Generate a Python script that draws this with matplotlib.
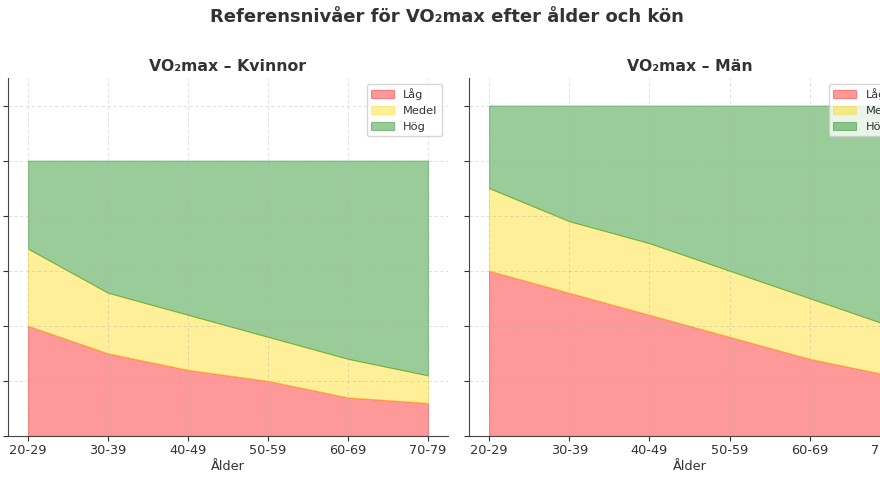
import matplotlib
matplotlib.use('Agg')
import matplotlib.pyplot as plt
from matplotlib.colors import to_rgba
import numpy as np

# age groups
age_groups = ['20-29', '30-39', '40-49', '50-59', '60-69', '70-79']
band_labels = ['Låg', 'Medel', 'Hög']

# women: thickness of each band (ml/kg/min)
kvinnor_lag = [20, 15, 12, 10, 7, 6]
kvinnor_medel = [14, 11, 10, 8, 7, 5]
kvinnor_hog = [16, 24, 28, 32, 36, 39]

# men
man_lag = [30, 26, 22, 18, 14, 11]
man_medel = [15, 13, 13, 12, 11, 9]
man_hog = [15, 21, 25, 30, 35, 40]

colors = ['red', 'gold', 'green']
txt = '#333333'
plt.rcParams['text.color'] = txt
plt.rcParams['axes.labelcolor'] = txt
plt.rcParams['xtick.color'] = txt
plt.rcParams['ytick.color'] = txt

fig = plt.figure(figsize=(8.8, 4.8), dpi=100)
ax1 = fig.add_axes([8 / 880, 44 / 480, 440 / 880, 358 / 480])
ax2 = fig.add_axes([469 / 880, 44 / 480, 441 / 880, 358 / 480], sharey=ax1)

x = np.arange(len(age_groups))
panels = [(ax1, 'VO₂max – Kvinnor', [kvinnor_lag, kvinnor_medel, kvinnor_hog]),
          (ax2, 'VO₂max – Män', [man_lag, man_medel, man_hog])]

for ax, title, bands in panels:
    polys = ax.stackplot(x, *bands, labels=band_labels, colors=colors, alpha=0.4)
    for p, c in zip(polys, colors):
        p.set_edgecolor(to_rgba(c, 0.3))
        p.set_linewidth(0.8)
    ax.set_title(title, fontsize=11.3, fontweight='bold', color=txt, pad=5)
    ax.set_xticks(x)
    ax.set_xticklabels(age_groups, fontsize=9.3)
    ax.tick_params(axis='x', pad=2.5)
    ax.set_xlabel('Ålder', fontsize=9.3, labelpad=2)
    ax.set_ylim(0, 65)
    ax.set_yticks(np.arange(0, 61, 10))
    ax.tick_params(axis='y', labelsize=9.3)
    ax.grid(True, linestyle=(0, (4, 3)), linewidth=0.6, alpha=0.45)
    ax.spines['top'].set_visible(False)
    ax.spines['right'].set_visible(False)
    ax.spines['left'].set_color('#444444')
    ax.spines['bottom'].set_color('#444444')
    ax.legend(loc='upper right', fontsize=8.2)

ax2.tick_params(axis='y', labelleft=False)

fig.suptitle('Referensnivåer för VO₂max efter ålder och kön', x=447 / 880, y=0.984,
             va='top', fontsize=13, fontweight='bold', color=txt)

fig.savefig('out.png', dpi=100)
